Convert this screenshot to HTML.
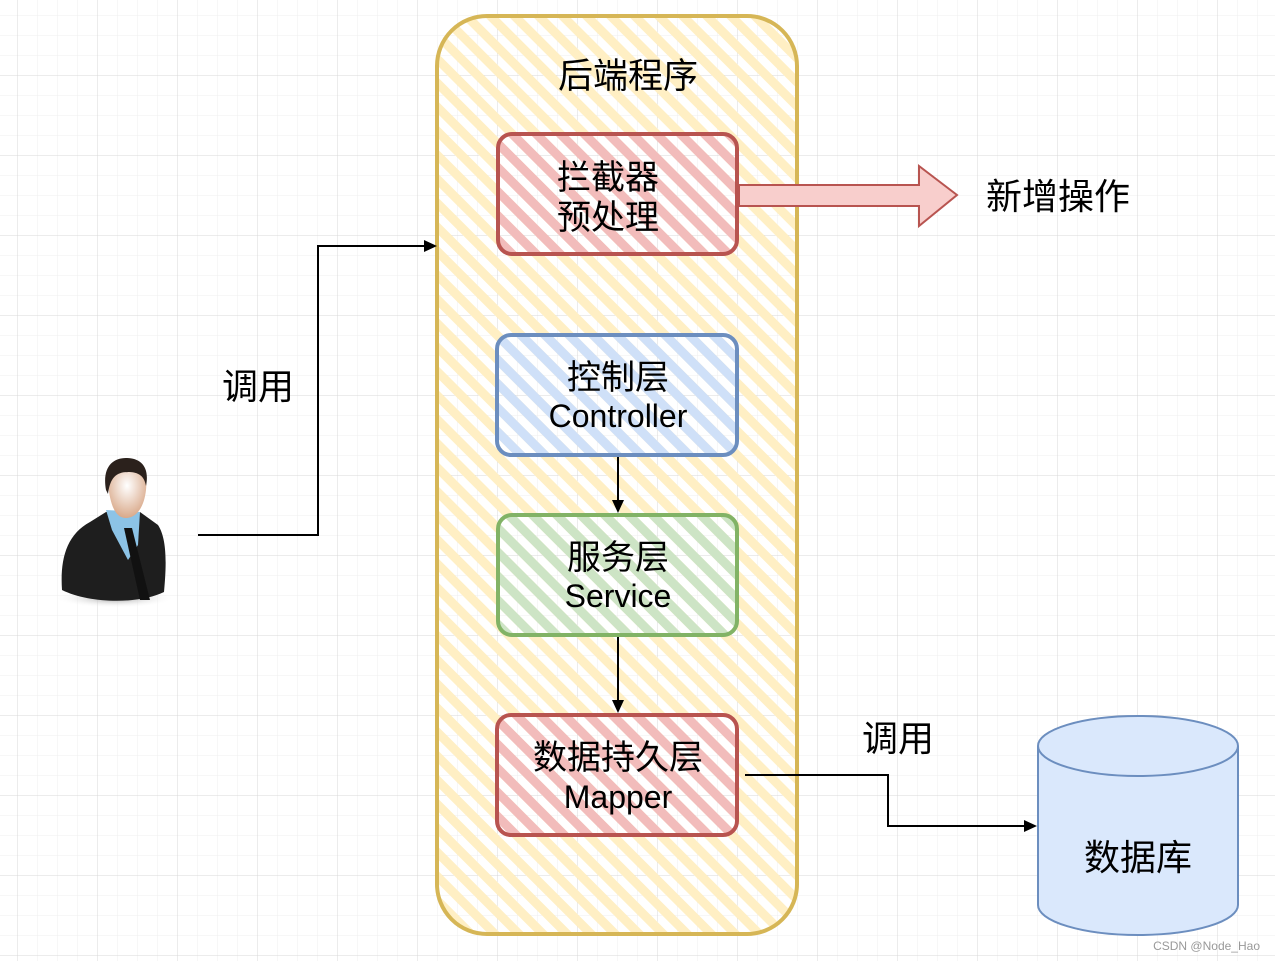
<!DOCTYPE html>
<html><head><meta charset="utf-8"><style>
html,body{margin:0;padding:0;background:#fff}
svg text{font-family:"Liberation Sans","Noto Sans CJK SC",sans-serif;fill:#000}
</style></head><body>
<svg width="1275" height="961" viewBox="0 0 1275 961" xmlns="http://www.w3.org/2000/svg">
<defs>
<pattern id="gmin" width="20" height="20" patternUnits="userSpaceOnUse" x="17" y="-5">
<path d="M0 0H20M0 0V20" stroke="#efefef" stroke-width="1" fill="none"/></pattern>
<pattern id="gmaj" width="80" height="80" patternUnits="userSpaceOnUse" x="17" y="-5">
<path d="M0 0H80M0 0V80" stroke="#d8d8d8" stroke-width="1" fill="none"/></pattern>
<pattern id="hy" width="17" height="17" patternUnits="userSpaceOnUse" patternTransform="rotate(45)">
<rect x="0" y="0" width="17" height="9" fill="#ffefc4"/></pattern>
<pattern id="hr" width="17" height="17" patternUnits="userSpaceOnUse" patternTransform="rotate(45)">
<rect x="0" y="0" width="17" height="9" fill="#f2bcbb"/></pattern>
<pattern id="hb" width="17" height="17" patternUnits="userSpaceOnUse" patternTransform="rotate(45)">
<rect x="0" y="0" width="17" height="9" fill="#cfe0f8"/></pattern>
<pattern id="hg" width="17" height="17" patternUnits="userSpaceOnUse" patternTransform="rotate(45)">
<rect x="0" y="0" width="17" height="9" fill="#cde4c5"/></pattern>
<radialGradient id="face" cx="0.5" cy="0.4" r="0.6"><stop offset="0" stop-color="#fff"/><stop offset="1" stop-color="#d9a98a"/></radialGradient>
<radialGradient id="shadow" cx="0.5" cy="0.5" r="0.5"><stop offset="0" stop-color="#999"/><stop offset="1" stop-color="#fff" stop-opacity="0"/></radialGradient>
</defs>
<rect width="1275" height="961" fill="#fff"/>
<rect width="1275" height="961" fill="url(#gmin)"/>
<rect width="1275" height="961" fill="url(#gmaj)"/>

<rect x="437" y="16" width="360" height="918" rx="50" fill="url(#hy)" stroke="#d6b656" stroke-width="4"/>
<text x="628" y="88" font-size="35" text-anchor="middle">后端程序</text>

<rect x="498" y="134" width="239" height="120" rx="14" fill="url(#hr)" stroke="#b85450" stroke-width="4"/>
<text x="608" y="189" font-size="34" text-anchor="middle">拦截器</text>
<text x="608" y="229" font-size="34" text-anchor="middle">预处理</text>

<path d="M739 185H919V166L957 195L919 226V206H739Z" fill="#f8cecc" stroke="#b85450" stroke-width="2"/>
<text x="1058" y="209" font-size="36" text-anchor="middle">新增操作</text>

<rect x="497" y="335" width="240" height="120" rx="14" fill="url(#hb)" stroke="#6c8ebf" stroke-width="4"/>
<text x="618" y="389" font-size="34" text-anchor="middle">控制层</text>
<text x="618" y="427" font-size="32" text-anchor="middle">Controller</text>

<path d="M618 457V505" stroke="#000" stroke-width="2"/>
<path d="M612 500L618 513L624 500Z" fill="#000"/>

<rect x="498" y="515" width="239" height="120" rx="14" fill="url(#hg)" stroke="#82b366" stroke-width="4"/>
<text x="618" y="569" font-size="34" text-anchor="middle">服务层</text>
<text x="618" y="607" font-size="32" text-anchor="middle">Service</text>

<path d="M618 637V705" stroke="#000" stroke-width="2"/>
<path d="M612 700L618 713L624 700Z" fill="#000"/>

<rect x="497" y="715" width="240" height="120" rx="14" fill="url(#hr)" stroke="#b85450" stroke-width="4"/>
<text x="618" y="769" font-size="34" text-anchor="middle">数据持久层</text>
<text x="618" y="808" font-size="32" text-anchor="middle">Mapper</text>

<path d="M198 535H318V246H428" fill="none" stroke="#000" stroke-width="2"/>
<path d="M424 240L437 246L424 252Z" fill="#000"/>
<text x="258" y="399" font-size="36" text-anchor="middle">调用</text>

<path d="M745 775H888V826H1028" fill="none" stroke="#000" stroke-width="2"/>
<path d="M1024 820L1037 826L1024 832Z" fill="#000"/>
<text x="898" y="751" font-size="36" text-anchor="middle">调用</text>

<path d="M1038 746V905A100 30 0 0 0 1238 905V746" fill="#dae8fc" stroke="#6c8ebf" stroke-width="2"/>
<ellipse cx="1138" cy="746" rx="100" ry="30" fill="#dae8fc" stroke="#6c8ebf" stroke-width="2"/>
<text x="1138" y="870" font-size="36" text-anchor="middle">数据库</text>

<ellipse cx="115" cy="598" rx="60" ry="10" fill="url(#shadow)"/>
<path d="M62 590C60 560 66 535 90 522L106 512H140L158 525C168 540 166 570 164 592C140 604 90 604 62 590Z" fill="#1e1e1e"/>
<path d="M106 510L140 512L138 545L128 560L112 530Z" fill="#8cc3e6"/>
<path d="M124 528L132 528L150 600L140 600Z" fill="#111"/>
<path d="M108 484C106 470 114 464 126 464C140 464 148 472 146 490C144 508 136 518 126 518C114 518 110 502 108 484Z" fill="url(#face)"/>
<path d="M106 490C102 468 112 458 126 458C140 458 150 466 146 486C144 474 136 472 128 472C116 472 110 478 108 494Z" fill="#2b211c"/>

<text x="1260" y="950" font-size="12" text-anchor="end" style="fill:#999">CSDN @Node_Hao</text>
</svg>
</body></html>
